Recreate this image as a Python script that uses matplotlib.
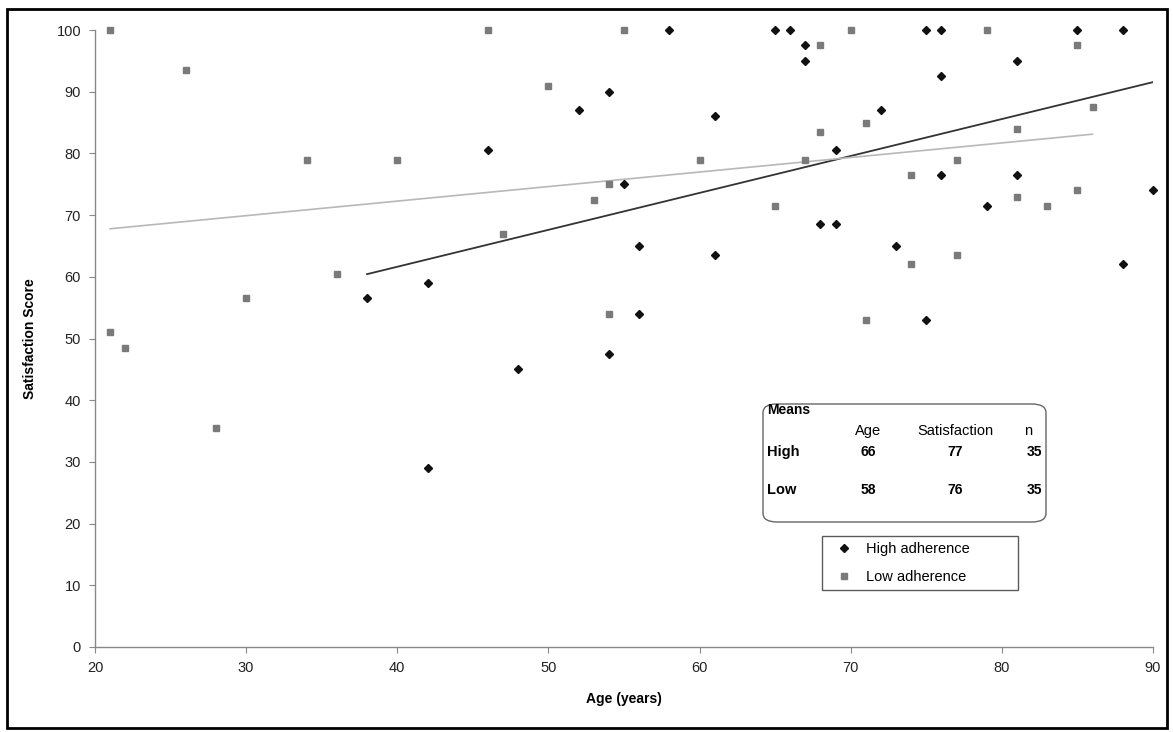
import numpy as np
import matplotlib
matplotlib.use('Agg')
import matplotlib.pyplot as plt
from matplotlib.patches import FancyBboxPatch, Rectangle

plt.rcParams['font.family'] = ['Liberation Sans', 'DejaVu Sans']

# high adherence (diamonds)
high_age = [38, 42, 42, 46, 48, 52, 54, 54, 55, 56, 56, 58, 61, 61, 65, 66, 67, 67,
            68, 69, 69, 72, 73, 75, 75, 76, 76, 76, 79, 81, 81, 85, 88, 88, 90]
high_sat = [56.5, 59, 29, 80.5, 45, 87, 90, 47.5, 75, 65, 54, 100, 86, 63.5, 100, 100, 97.5, 95,
            68.5, 68.5, 80.5, 87, 65, 100, 53, 100, 92.5, 76.5, 71.5, 95, 76.5, 100, 100, 62, 74]

# low adherence (squares)
low_age = [21, 21, 22, 26, 28, 30, 34, 36, 40, 46, 47, 50, 53, 54, 54, 55, 60, 65,
           67, 68, 68, 70, 71, 71, 74, 74, 77, 77, 79, 81, 81, 83, 85, 85, 86]
low_sat = [100, 51, 48.5, 93.5, 35.5, 56.5, 79, 60.5, 79, 100, 67, 91, 72.5, 75, 54, 100, 79, 71.5,
           79, 97.5, 83.5, 100, 85, 53, 76.5, 62, 79, 63.5, 100, 84, 73, 71.5, 97.5, 74, 87.5]

# means table
table_cols = ['Age', 'Satisfaction', 'n']
table_rows = ['High', 'Low']
table_vals = [[66, 77, 35], [58, 76, 35]]

W, H = 1173, 732
fig = plt.figure(figsize=(W / 100, H / 100), dpi=100)
ax = fig.add_axes([95 / W, 1 - 647 / H, 1058 / W, 617 / H])

def fx(px):
    return px / W

def fy(py):
    return 1 - py / H

ax.plot(high_age, high_sat, 'D', color='#111111', ms=4.5, label='High adherence',
        zorder=4, clip_on=False)
ax.plot(low_age, low_sat, 's', color='#7a7a7a', ms=5, label='Low adherence',
        zorder=4, clip_on=False)

# linear trendlines over each series' range
for xs, ys, col, lw in [(high_age, high_sat, '#333333', 1.3), (low_age, low_sat, '#b8b8b8', 1.2)]:
    xs = np.asarray(xs, float)
    ys = np.asarray(ys, float)
    k, b = np.polyfit(xs, ys, 1)
    xl = np.array([xs.min(), xs.max()])
    ax.plot(xl, k * xl + b, color=col, lw=lw, zorder=3)

ax.set_xlim(20, 90)
ax.set_ylim(0, 100)
ax.set_xticks(range(20, 91, 10))
ax.set_yticks(range(0, 101, 10))
ax.spines['top'].set_visible(False)
ax.spines['right'].set_visible(False)
for s in ['left', 'bottom']:
    ax.spines[s].set_color('#888888')
    ax.spines[s].set_linewidth(1.0)
ax.tick_params(direction='out', length=4, width=0.8, color='#888888',
               labelsize=10.5, labelcolor='#222222', pad=6)
ax.set_xlabel('Age (years)', fontsize=10, fontweight='bold', labelpad=12)
ax.set_ylabel('Satisfaction Score', fontsize=10, fontweight='bold', labelpad=14)

lx0 = (822 - 95) / 1058
ly1 = (647 - 536) / 617
leg = ax.legend(loc='upper left', bbox_to_anchor=(lx0, ly1 - 0.1, (1018 - 822) / 1058, 0.1),
                mode='expand', frameon=True, fancybox=False, fontsize=10.5, handletextpad=0.4,
                borderpad=0.4, labelspacing=1.0, markerscale=0.8, handlelength=2.2,
                borderaxespad=0)
leg.get_frame().set_edgecolor('#333333')
leg.get_frame().set_linewidth(1.0)

# means box
box = FancyBboxPatch((fx(763), fy(522)), fx(1046) - fx(763), fy(404) - fy(522),
                     boxstyle='round,pad=0,rounding_size=0.012', transform=fig.transFigure,
                     facecolor='white', edgecolor='#666666', lw=1.0, zorder=5)
fig.patches.append(box)
fig.text(fx(767), fy(410), 'Means', fontsize=10, fontweight='bold', va='center', ha='left', zorder=6)
col_x = [868, 955, 1028]
for cx, c in zip(col_x, table_cols):
    fig.text(fx(cx), fy(431), c, fontsize=10.5, va='center', ha='center', zorder=6)
for ry, r, vals in zip([452, 490], table_rows, table_vals):
    fig.text(fx(767), fy(ry), r, fontsize=10.5, fontweight='bold', va='center', ha='left', zorder=6)
    for cx, v in zip(col_x, vals):
        fig.text(fx(cx + (6 if cx == 1028 else 0)), fy(ry), str(v), fontsize=10,
                 fontweight='bold', va='center', ha='center', zorder=6)

# outer frame
fig.patches.append(Rectangle((fx(7), fy(728)), fx(1167) - fx(7), fy(9) - fy(728),
                             transform=fig.transFigure, fill=False, edgecolor='black', lw=2))

fig.savefig('out.png', dpi=100)
